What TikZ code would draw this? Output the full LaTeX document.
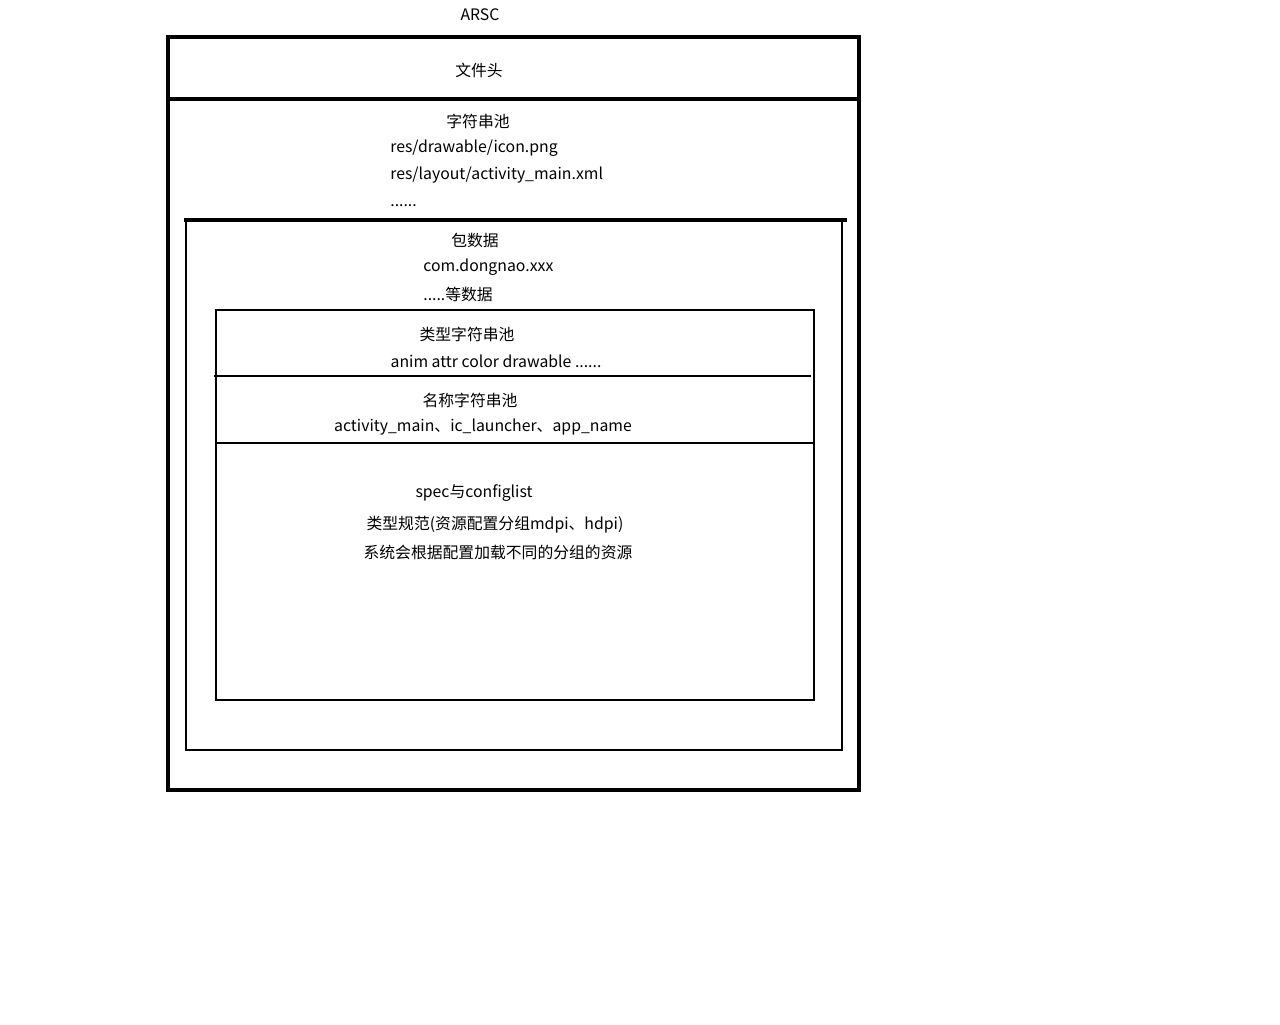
\documentclass[tikz,border=0pt]{standalone}
\usepackage{fontspec}
\setmainfont{Noto Sans CJK SC}
\begin{document}
\begin{tikzpicture}[x=0.02cm,y=-0.02cm,
  font=\fontsize{9}{10}\selectfont,
  heavy/.style={line width=2.2pt,black},
  light/.style={line width=1.2pt,black},
  mid/.style={line width=1.7pt,black},
  lbl/.style={inner sep=0pt},
  lft/.style={inner sep=0pt,anchor=west}]
\useasboundingbox (0,0) rectangle (1280,1024);
            % Outer ARSC box
            \draw[heavy] (168,37) rectangle (859,790);
            \draw[heavy] (166,99) -- (859,99); % header line
            \node[lbl] (arsc) at (480,15) {ARSC};
            \node[lbl] (head) at (479,70) {文件头};
            % String pool
            \node[lbl] (pool) at (478,121) {字符串池};
            \node[lft] (icon) at (390,148) {res/drawable/icon.png};
            \node[lft] (layout) at (390,175) {res/layout/activity\_main.xml};
            \node[lft] (more) at (390,206) {......};
            % Package box
            \draw[heavy] (184,220) -- (847,220);
            \draw[light] (186,220) -- (186,750) -- (842,750) -- (842,220);
            \node[lbl] (pkg) at (475,240) {包数据};
            \node[lft] (pkgname) at (423,267) {com.dongnao.xxx};
            \node[lft] (pkgmore) at (423,294) {.....等数据};
            % Inner pools
            \draw[light] (216,310) rectangle (814,700);
            \draw[mid] (214,376) -- (811,376);
            \draw[mid] (216,443) -- (814,443);
            \node[lbl] (typepool) at (467,334) {类型字符串池};
            \node[lbl] (types) at (496,361) {anim attr color drawable ......};
            \node[lbl] (keypool) at (470,400) {名称字符串池};
            \node[lbl] (keys) at (483,427) {activity\_main、ic\_launcher、app\_name};
            \node[lbl] (spec) at (474,493) {spec与configlist};
            \node[lbl] (typespec) at (495,525) {类型规范(资源配置分组mdpi、hdpi)};
            \node[lbl] (config) at (498,552) {系统会根据配置加载不同的分组的资源};
\end{tikzpicture}
\end{document}
